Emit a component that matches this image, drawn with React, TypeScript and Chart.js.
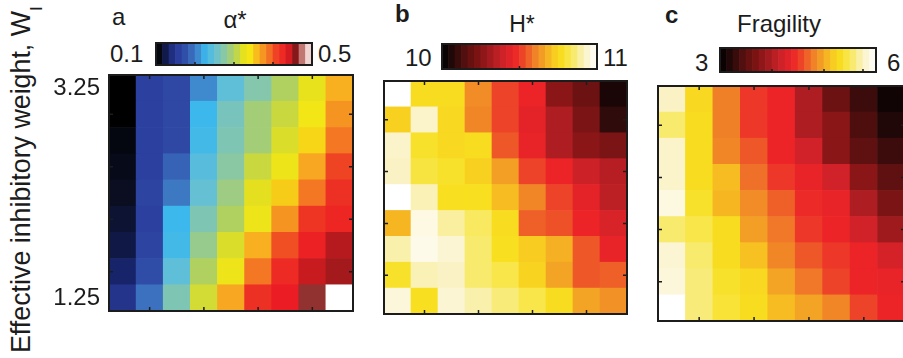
import React, { useEffect, useRef } from "react";
import { Chart, registerables } from "chart.js";

Chart.register(...registerables);

// ---------- data ----------
// rows listed top (W_I = 3.25) to bottom (W_I = 1.25)
const rowLabels = ["3.25", "3.00", "2.75", "2.50", "2.25", "2.00", "1.75", "1.50", "1.25"];
const columnLabels = ["1", "2", "3", "4", "5", "6", "7", "8", "9"];
const yTickRows = ["3.25", "1.25"];

const alphaStar = [
  [0.100, 0.160, 0.168, 0.208, 0.248, 0.272, 0.300, 0.328, 0.364],
  [0.100, 0.160, 0.168, 0.228, 0.264, 0.292, 0.312, 0.336, 0.376],
  [0.108, 0.160, 0.168, 0.232, 0.268, 0.292, 0.320, 0.348, 0.388],
  [0.112, 0.160, 0.188, 0.244, 0.276, 0.312, 0.332, 0.368, 0.408],
  [0.116, 0.164, 0.200, 0.252, 0.288, 0.324, 0.352, 0.388, 0.420],
  [0.120, 0.160, 0.228, 0.268, 0.300, 0.332, 0.376, 0.416, 0.428],
  [0.124, 0.164, 0.232, 0.284, 0.320, 0.364, 0.404, 0.432, 0.448],
  [0.132, 0.172, 0.248, 0.300, 0.332, 0.388, 0.424, 0.444, 0.452],
  [0.148, 0.196, 0.268, 0.316, 0.368, 0.420, 0.436, 0.464, 0.500],
];

const hStar = [
  [11.00, 10.77, 10.77, 10.62, 10.52, 10.47, 10.26, 10.20, 10.05],
  [10.74, 10.93, 10.76, 10.61, 10.52, 10.45, 10.33, 10.23, 10.09],
  [10.93, 10.79, 10.76, 10.77, 10.55, 10.46, 10.33, 10.26, 10.23],
  [10.92, 10.81, 10.79, 10.74, 10.65, 10.52, 10.47, 10.39, 10.35],
  [11.00, 10.91, 10.78, 10.78, 10.70, 10.61, 10.52, 10.45, 10.36],
  [10.69, 10.96, 10.89, 10.84, 10.77, 10.56, 10.54, 10.47, 10.42],
  [10.90, 10.97, 10.94, 10.85, 10.78, 10.73, 10.68, 10.55, 10.46],
  [10.79, 10.91, 10.92, 10.85, 10.82, 10.75, 10.66, 10.55, 10.56],
  [10.95, 10.78, 10.94, 10.90, 10.86, 10.82, 10.77, 10.66, 10.63],
];

const fragility = [
  [5.76, 5.28, 4.80, 4.50, 4.41, 3.99, 3.60, 3.33, 3.09],
  [5.55, 5.31, 4.80, 4.50, 4.41, 3.99, 3.78, 3.42, 3.18],
  [5.79, 5.31, 4.83, 4.65, 4.41, 4.20, 3.78, 3.51, 3.33],
  [5.79, 5.31, 5.10, 4.74, 4.50, 4.38, 4.20, 3.78, 3.51],
  [5.88, 5.37, 5.07, 4.86, 4.68, 4.44, 4.38, 3.99, 3.69],
  [5.55, 5.46, 5.31, 4.95, 4.77, 4.50, 4.41, 4.20, 3.90],
  [5.82, 5.55, 5.31, 5.13, 4.83, 4.65, 4.50, 4.41, 4.23],
  [5.85, 5.58, 5.37, 5.28, 4.98, 4.77, 4.56, 4.41, 4.38],
  [6.00, 5.58, 5.40, 5.31, 5.10, 4.98, 4.83, 4.56, 4.41],
];

const alphaRange = [0.1, 0.5];
const hRange = [10, 11];
const fragRange = [3, 6];
const alphaBarTicks = [0.2, 0.3, 0.4];
const hBarTicks = [10.5];
const fragBarTicks = [4, 5, 5.75];

// ---------- colormaps ----------
type Stop = [number, string];
const jetMap: Stop[] = [
  [0.0, "#000000"], [0.04, "#0a0e20"], [0.08, "#17246a"], [0.14, "#2a3c9c"],
  [0.2, "#3254ac"], [0.26, "#3f80c8"], [0.32, "#3cb8ec"], [0.38, "#66c0d4"],
  [0.44, "#8ac8a4"], [0.5, "#b0d060"], [0.56, "#e4e020"], [0.6, "#f6e812"],
  [0.66, "#f8b020"], [0.72, "#f47824"], [0.78, "#ee3a24"], [0.84, "#ec1c24"],
  [0.9, "#801818"], [0.95, "#d89890"], [1.0, "#ffffff"],
];
const hotMap: Stop[] = [
  [0.0, "#000000"], [0.08, "#2a0a0a"], [0.16, "#5a1010"], [0.24, "#801414"],
  [0.32, "#a81c20"], [0.4, "#d02228"], [0.47, "#ec2428"], [0.54, "#ee5028"],
  [0.6, "#f08028"], [0.66, "#f4a424"], [0.72, "#f8c820"], [0.78, "#f8e020"],
  [0.85, "#f8ea6c"], [0.92, "#faf2c4"], [1.0, "#ffffff"],
];

function hexRgb(h: string) {
  return [parseInt(h.slice(1, 3), 16), parseInt(h.slice(3, 5), 16), parseInt(h.slice(5, 7), 16)];
}
function sample(map: Stop[], t: number) {
  t = Math.max(0, Math.min(1, t));
  for (let i = 0; i < map.length - 1; i++) {
    const [t0, c0] = map[i];
    const [t1, c1] = map[i + 1];
    if (t <= t1) {
      const f = (t - t0) / (t1 - t0);
      const a = hexRgb(c0), b = hexRgb(c1);
      const m = a.map((v, k) => Math.round(v + (b[k] - v) * f));
      return `rgb(${m[0]},${m[1]},${m[2]})`;
    }
  }
  return map[map.length - 1][1];
}

const FONT = '"Liberation Sans", Arial, sans-serif';
const INK = "#1c1c1c";

type Area = { left: number; top: number; right: number; bottom: number };

const framePlugin = {
  id: "frameTicks",
  afterDatasetsDraw(chart: any, _args: any, opts: any) {
    const { ctx, chartArea: a, scales } = chart;
    ctx.save();
    ctx.strokeStyle = INK;
    if (opts.heat) {
      ctx.lineWidth = 1.5;
      ctx.beginPath();
      for (const xv of [1, 3, 5, 7]) {
        const px = scales.x.getPixelForValue(xv);
        ctx.moveTo(px, a.top); ctx.lineTo(px, a.top + 4);
        ctx.moveTo(px, a.bottom); ctx.lineTo(px, a.bottom - 4);
      }
      for (const yv of [1.5, 3.5, 5.5, 7.5]) {
        const py = scales.y.getPixelForValue(yv);
        ctx.moveTo(a.left, py); ctx.lineTo(a.left + 4, py);
        ctx.moveTo(a.right, py); ctx.lineTo(a.right - 4, py);
      }
      ctx.stroke();
    }
    if (opts.barTicks) {
      const [mn, mx] = opts.range;
      ctx.lineWidth = 1.5;
      ctx.beginPath();
      for (const v of opts.barTicks) {
        const px = a.left + ((v - mn) / (mx - mn)) * (a.right - a.left);
        ctx.moveTo(px, a.bottom); ctx.lineTo(px, a.bottom - 3);
      }
      ctx.stroke();
    }
    ctx.lineWidth = 2;
    ctx.strokeRect(a.left, a.top, a.right - a.left, a.bottom - a.top);
    ctx.restore();
  },
};

function Heatmap(props: { values: number[][]; range: number[]; cmap: Stop[]; area: Area; axisLeft?: number }) {
  const ref = useRef<HTMLCanvasElement>(null);
  const { values, range, cmap, area, axisLeft } = props;
  const showY = axisLeft !== undefined;
  const cLeft = showY ? (axisLeft as number) : area.left - 2;
  const cTop = area.top - 2;
  const cW = area.right + 2 - cLeft;
  const cH = area.bottom - area.top + 4;
  useEffect(() => {
    const n = values.length;
    const datasets = [] as any[];
    for (let i = 0; i < n; i++) {
      const r = n - 1 - i; // bottom row first
      datasets.push({
        label: rowLabels[r],
        data: values[r].map(() => 1),
        backgroundColor: values[r].map((v) => sample(cmap, (v - range[0]) / (range[1] - range[0]))),
        borderWidth: 0,
        barPercentage: 1,
        categoryPercentage: 1,
      });
    }
    const chart = new Chart(ref.current as HTMLCanvasElement, {
      type: "bar",
      data: { labels: columnLabels, datasets },
      options: {
        responsive: false,
        animation: false,
        layout: { padding: { top: 2, bottom: 2, right: 2, left: showY ? 0 : 2 } },
        plugins: { legend: { display: false }, tooltip: { enabled: false }, frameTicks: { heat: true } } as any,
        scales: {
          x: { stacked: true, display: false },
          y: {
            stacked: true,
            min: 0,
            max: n,
            display: showY,
            afterBuildTicks: (s: any) => {
              s.ticks = [{ value: n - 0.5 }, { value: 0.5 }];
            },
            afterFit: (s: any) => {
              if (showY) {
                s.width = area.left - cLeft;
                s.paddingTop = 0;
                s.paddingBottom = 0;
              }
            },
            grid: { display: false, drawTicks: false },
            border: { display: false },
            ticks: {
              padding: 9,
              color: INK,
              font: { family: FONT, size: 24 },
              callback: (v: any) => (v > n / 2 ? yTickRows[0] : yTickRows[1]),
            },
          },
        },
      },
      plugins: [framePlugin],
    });
    return () => chart.destroy();
  }, []);
  return (
    <canvas
      ref={ref}
      width={cW}
      height={cH}
      style={{ position: "absolute", left: cLeft, top: cTop, width: cW, height: cH }}
    />
  );
}

function ColorBar(props: { cmap: Stop[]; range: number[]; ticks: number[]; area: Area }) {
  const ref = useRef<HTMLCanvasElement>(null);
  const { cmap, range, ticks, area } = props;
  const cLeft = area.left - 2, cTop = area.top - 2;
  const cW = area.right - area.left + 4, cH = area.bottom - area.top + 4;
  useEffect(() => {
    const steps = 24;
    const labels = Array.from({ length: steps }, (_, i) => String(i));
    const colors = labels.map((_, i) => sample(cmap, (i + 0.5) / steps));
    const chart = new Chart(ref.current as HTMLCanvasElement, {
      type: "bar",
      data: {
        labels,
        datasets: [{ data: labels.map(() => 1), backgroundColor: colors, borderWidth: 0, barPercentage: 1, categoryPercentage: 1 }],
      },
      options: {
        responsive: false,
        animation: false,
        layout: { padding: 2 },
        plugins: { legend: { display: false }, tooltip: { enabled: false }, frameTicks: { barTicks: ticks, range } } as any,
        scales: { x: { display: false }, y: { display: false, min: 0, max: 1 } },
      },
      plugins: [framePlugin],
    });
    return () => chart.destroy();
  }, []);
  return (
    <canvas
      ref={ref}
      width={cW}
      height={cH}
      style={{ position: "absolute", left: cLeft, top: cTop, width: cW, height: cH }}
    />
  );
}

function Label(props: { x: number; base: number; size?: number; bold?: boolean; align?: "left" | "center"; children: any }) {
  const size = props.size ?? 24;
  return (
    <div
      style={{
        position: "absolute",
        left: props.x,
        top: props.base - size * 0.8465,
        fontSize: size,
        lineHeight: `${size}px`,
        fontWeight: props.bold ? 700 : 400,
        whiteSpace: "nowrap",
        transform: props.align === "center" ? "translateX(-50%)" : undefined,
      }}
    >
      {props.children}
    </div>
  );
}

export default function App() {
  return (
    <div
      style={{
        position: "fixed",
        left: 0,
        top: 0,
        width: 903,
        height: 358,
        overflow: "hidden",
        background: "#ffffff",
        fontFamily: FONT,
        color: INK,
      }}
    >
      {/* y axis title */}
      <div
        style={{
          position: "absolute",
          left: 8,
          top: 353,
          fontSize: 26.8,
          lineHeight: "27px",
          whiteSpace: "nowrap",
          transform: "rotate(-90deg)",
          transformOrigin: "0 0",
        }}
      >
        Effective inhibitory weight, W
        <span style={{ fontSize: 17, position: "relative", top: 12, lineHeight: 0 }}>I</span>
      </div>

      {/* panel a */}
      <Label x={112} base={25}>a</Label>
      <Label x={235} base={28} align="center">α*</Label>
      <Label x={110} base={62}>0.1</Label>
      <Label x={318} base={62}>0.5</Label>
      <ColorBar cmap={jetMap} range={alphaRange} ticks={alphaBarTicks} area={{ left: 156, top: 43, right: 312, bottom: 65 }} />
      <Heatmap values={alphaStar} range={alphaRange} cmap={jetMap} area={{ left: 109, top: 75, right: 353, bottom: 311 }} axisLeft={40} />

      {/* panel b */}
      <Label x={395} base={22} bold>b</Label>
      <Label x={522} base={32} size={23} align="center">H*</Label>
      <Label x={405} base={66}>10</Label>
      <Label x={603} base={66}>11</Label>
      <ColorBar cmap={hotMap} range={hRange} ticks={hBarTicks} area={{ left: 442, top: 44, right: 597, bottom: 69 }} />
      <Heatmap values={hStar} range={hRange} cmap={hotMap} area={{ left: 384, top: 81, right: 627, bottom: 314 }} />

      {/* panel c */}
      <Label x={665} base={23} bold>c</Label>
      <Label x={737} base={32}>Fragility</Label>
      <Label x={695} base={71}>3</Label>
      <Label x={887} base={71}>6</Label>
      <ColorBar cmap={hotMap} range={fragRange} ticks={fragBarTicks} area={{ left: 720, top: 48, right: 876, bottom: 72 }} />
      <Heatmap values={fragility} range={fragRange} cmap={hotMap} area={{ left: 658, top: 86, right: 905, bottom: 321 }} />
    </div>
  );
}
